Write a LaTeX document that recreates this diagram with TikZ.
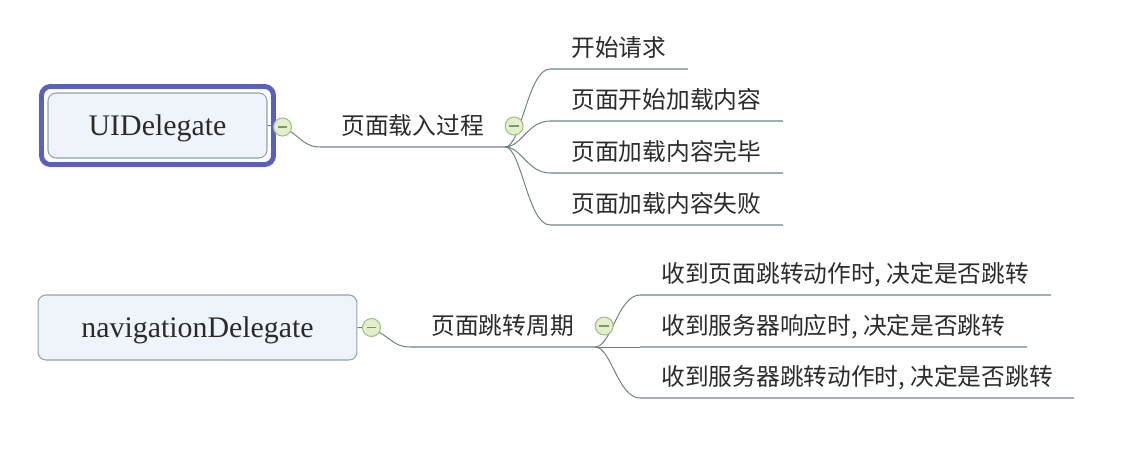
\documentclass[tikz,border=0pt]{standalone}
\usepackage{fontspec}
\setmainfont{Liberation Serif}
\newfontfamily\cjk{Noto Sans CJK SC}
\usetikzlibrary{positioning,fit}
\definecolor{selblue}{HTML}{5B5FBF}
\definecolor{boxline}{HTML}{8EA3AA}
\definecolor{boxfill}{HTML}{EFF4FB}
\definecolor{foldline}{HTML}{A3BE87}
\definecolor{foldfill}{HTML}{E4EECB}
\definecolor{foldmark}{HTML}{7E9670}
\definecolor{linkgray}{HTML}{6E7F80}
\definecolor{linegray}{HTML}{9CB0B5}
\definecolor{txt}{HTML}{2B2B2B}

\begin{document}
\begin{tikzpicture}[
x=0.02cm,y=-0.02cm,
every node/.style={text=txt},
root/.style={draw=boxline,fill=boxfill,rounded corners=0.16cm,line width=0.6pt,minimum height=1.3cm,text height=15pt,text depth=4pt,font=\fontsize{17}{20}\selectfont},
sel/.style={draw=selblue,line width=2.8pt,rounded corners=0.18cm,inner sep=0.12cm},
topic/.style={anchor=south west,font=\cjk\fontsize{13.5}{16}\selectfont,text height=11pt,text depth=0pt,inner xsep=12pt,inner ysep=6.8pt},
fold/.style={circle,draw=foldline,fill=foldfill,line width=0.6pt,minimum size=0.36cm,inner sep=0pt,
  path picture={\draw[foldmark,line width=0.7pt] ([xshift=-2.8pt]path picture bounding box.center) -- ([xshift=2.8pt]path picture bounding box.center);}},
link/.style={draw=linkgray,line width=0.55pt},
uline/.style={draw=linegray,line width=1.1pt}
]
\useasboundingbox (0,0) rectangle (1140,460);

% root topics
\node[root,minimum width=4.38cm] (ui) at (157.5,125.5) {UIDelegate};
\node[sel,fit=(ui)] (uisel) {};
\node[root,minimum width=6.38cm] (nav) at (197.5,327.5) {navigationDelegate};

% main branches
\node[topic] (load) at (320,147) {页面载入过程};
\node[topic] (jump) at (410,347) {页面跳转周期};

% leaves
\node[topic] (start) at (550,69) {开始请求};
\node[topic] (begin) at (550,121) {页面开始加载内容};
\node[topic] (finish) at (550,173) {页面加载内容完毕};
\node[topic] (fail) at (550,225) {页面加载内容失败};
\node[topic] (action) at (640,295) {收到页面跳转动作时, 决定是否跳转};
\node[topic] (resp) at (640,347) {收到服务器响应时, 决定是否跳转};
\node[topic] (redir) at (640,398) {收到服务器跳转动作时, 决定是否跳转};

% connectors
\draw[link] (ui.east) .. controls +(30,0) and +(-22,0) .. (load.south west);
\draw[uline] (load.south west) -- (load.south east);
\draw[link] (load.south east) .. controls +(16,0) and +(-22,0) .. (start.south west);
\draw[link] (load.south east) .. controls +(16,0) and +(-22,0) .. (begin.south west);
\draw[link] (load.south east) .. controls +(16,0) and +(-22,0) .. (finish.south west);
\draw[link] (load.south east) .. controls +(16,0) and +(-22,0) .. (fail.south west);
\draw[uline] (start.south west) -- (start.south east);
\draw[uline] (begin.south west) -- (begin.south east);
\draw[uline] (finish.south west) -- (finish.south east);
\draw[uline] (fail.south west) -- (fail.south east);

\draw[link] (nav.east) .. controls +(30,0) and +(-22,0) .. (jump.south west);
\draw[uline] (jump.south west) -- (jump.south east);
\draw[link] (jump.south east) .. controls +(16,0) and +(-22,0) .. (action.south west);
\draw[link] (jump.south east) -- (resp.south west);
\draw[link] (jump.south east) .. controls +(16,0) and +(-22,0) .. (redir.south west);
\draw[uline] (action.south west) -- (action.south east);
\draw[uline] (resp.south west) -- (resp.south east);
\draw[uline] (redir.south west) -- (redir.south east);

% fold markers
\node[fold] (uifold) at ([shift={(15,1.5)}]ui.east) {};
\node[fold] (loadfold) at ([shift={(9,-21)}]load.south east) {};
\node[fold] (navfold) at ([shift={(14,0)}]nav.east) {};
\node[fold] (jumpfold) at ([shift={(9,-21)}]jump.south east) {};
\end{tikzpicture}
\end{document}
